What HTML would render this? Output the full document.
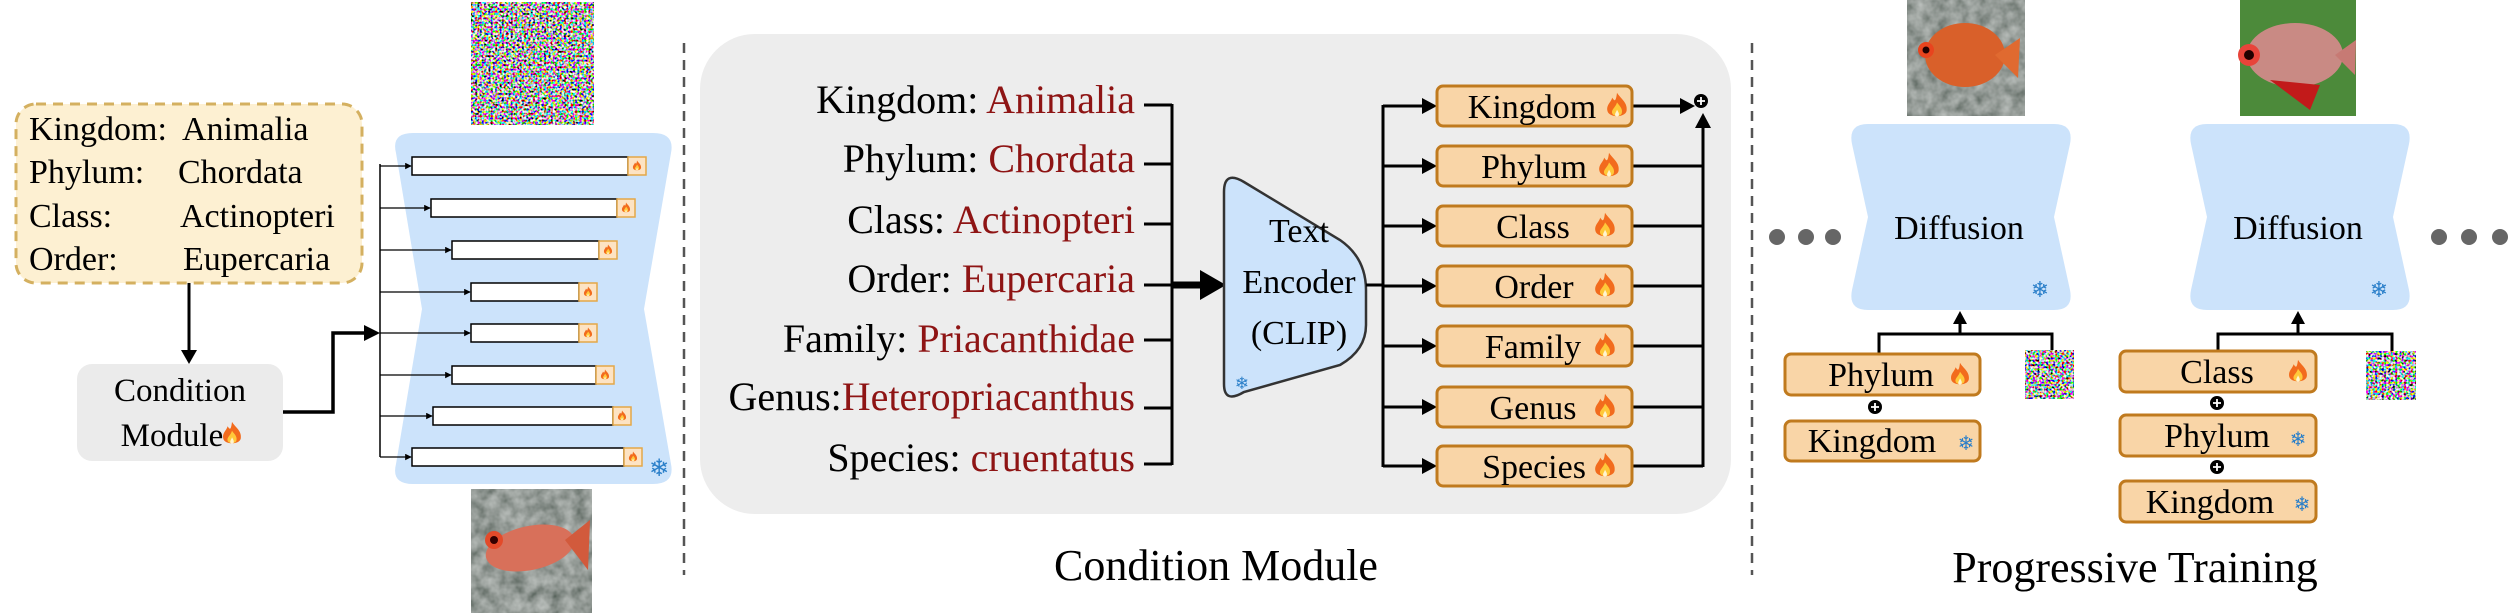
<!DOCTYPE html>
<html><head><meta charset="utf-8"><style>
html,body{margin:0;padding:0;background:#fff;}
svg{display:block;font-family:"Liberation Serif","Times New Roman","DejaVu Serif",serif;}
svg text{font-family:"Liberation Serif","Times New Roman","DejaVu Serif",serif;}
svg text.sym{font-family:"DejaVu Sans",sans-serif;}
</style></head><body>
<svg width="2509" height="613" viewBox="0 0 2509 613" xmlns="http://www.w3.org/2000/svg" font-family="Liberation Serif, serif">
<defs>
<symbol id="fire" viewBox="-10 -12 20 24">
<path d="M0,-11 C3,-6 9,-3 8,4 C7,10 -7,10 -8,4 C-9,-1 -5,-3 -4,-7 C-2,-4 -1,-3 0,-11Z" fill="#f26b1d"/>
<path d="M0,-3 C2,0 5,2 4,6 C3,9 -3,9 -4,6 C-5,3 -1,1 0,-3Z" fill="#ffc83a"/>
<path d="M0,3 C1,5 2,6 1.5,8 C1,9 -1,9 -1.5,8 C-2,6 -0.5,5 0,3Z" fill="#fff4d0"/>
</symbol>
<filter id="noise" x="0" y="0" width="100%" height="100%">
<feTurbulence type="fractalNoise" baseFrequency="0.45" numOctaves="1" seed="3"/>
<feComponentTransfer><feFuncR type="linear" slope="5" intercept="-2"/><feFuncG type="linear" slope="5" intercept="-2"/><feFuncB type="linear" slope="5" intercept="-2"/><feFuncA type="linear" slope="0" intercept="1"/></feComponentTransfer>
</filter>
<filter id="mottle" x="0" y="0" width="100%" height="100%">
<feTurbulence type="fractalNoise" baseFrequency="0.08" numOctaves="3" seed="5"/>
<feColorMatrix type="matrix" values="0 0 0 0.5 0.05  0 0 0 0.5 0.08  0 0 0 0.5 0.06  0 0 0 0 1"/>
</filter>
<marker id="ah" viewBox="0 0 10 10" refX="9" refY="5" markerWidth="5" markerHeight="5" orient="auto"><path d="M0,0 L10,5 L0,10Z" fill="#000"/></marker>
</defs>

<rect x="0" y="0" width="2509" height="613" fill="#fff"/>
<rect x="471" y="2" width="123" height="123" fill="#888" filter="url(#noise)"/>
<rect x="16" y="104" width="346" height="179" rx="20" fill="#fdf0d2" stroke="#d4b060" stroke-width="3" stroke-dasharray="10,7"/>
<g font-size="34" fill="#000">
<text x="29" y="140">Kingdom:</text><text x="182" y="140">Animalia</text>
<text x="29" y="183">Phylum:</text><text x="178" y="183">Chordata</text>
<text x="29" y="227">Class:</text><text x="180" y="227">Actinopteri</text>
<text x="29" y="270">Order:</text><text x="183" y="270">Eupercaria</text>
</g>
<line x1="189" y1="283" x2="189" y2="352" stroke="#000" stroke-width="3"/>
<path d="M181,350 L197,350 L189,364Z" fill="#000"/>
<rect x="77" y="364" width="206" height="97" rx="15" fill="#ebebeb"/>
<text x="180" y="401" font-size="33" text-anchor="middle">Condition</text>
<text x="172" y="446" font-size="33" text-anchor="middle">Module</text>
<use href="#fire" x="221" y="420" width="22" height="28"/>
<polyline points="283,412 333,412 333,333 366,333" fill="none" stroke="#000" stroke-width="3.5"/>
<path d="M364,325 L380,333 L364,341Z" fill="#000"/>

<path d="M413,133 L653,133 Q675,133 671,153 L644,309 L671,464 Q675,484 653,484 L413,484 Q391,484 396,464 L422,309 L396,153 Q391,133 413,133 Z" fill="#cce3fb"/>
<line x1="380" y1="164" x2="380" y2="457" stroke="#000" stroke-width="1.5"/>
<g stroke="#000" stroke-width="1.3">
<line x1="380" y1="166" x2="411" y2="166" marker-end="url(#ah)"/>
<line x1="380" y1="208" x2="430" y2="208" marker-end="url(#ah)"/>
<line x1="380" y1="250" x2="451" y2="250" marker-end="url(#ah)"/>
<line x1="380" y1="292" x2="470" y2="292" marker-end="url(#ah)"/>
<line x1="380" y1="333" x2="470" y2="333" marker-end="url(#ah)"/>
<line x1="380" y1="375" x2="451" y2="375" marker-end="url(#ah)"/>
<line x1="380" y1="416" x2="432" y2="416" marker-end="url(#ah)"/>
<line x1="380" y1="457" x2="411" y2="457" marker-end="url(#ah)"/>
</g>
<g stroke="#000" stroke-width="1.5" fill="#fff">
<rect x="412" y="157" width="216" height="18"/>
<rect x="431" y="199" width="186" height="18"/>
<rect x="452" y="241" width="147" height="18"/>
<rect x="471" y="283" width="108" height="18"/>
<rect x="471" y="324" width="108" height="18"/>
<rect x="452" y="366" width="144" height="18"/>
<rect x="433" y="407" width="180" height="18"/>
<rect x="412" y="448" width="212" height="18"/>
</g>
<g fill="#fde3c3" stroke="#e3a848" stroke-width="1.5">
<rect x="628" y="157" width="18" height="18"/>
<rect x="617" y="199" width="18" height="18"/>
<rect x="599" y="241" width="18" height="18"/>
<rect x="579" y="283" width="18" height="18"/>
<rect x="579" y="324" width="18" height="18"/>
<rect x="596" y="366" width="18" height="18"/>
<rect x="613" y="407" width="18" height="18"/>
<rect x="624" y="448" width="18" height="18"/>
</g>
<g>
<use href="#fire" x="631" y="160" width="12" height="12"/>
<use href="#fire" x="620" y="202" width="12" height="12"/>
<use href="#fire" x="602" y="244" width="12" height="12"/>
<use href="#fire" x="582" y="286" width="12" height="12"/>
<use href="#fire" x="582" y="327" width="12" height="12"/>
<use href="#fire" x="599" y="369" width="12" height="12"/>
<use href="#fire" x="616" y="410" width="12" height="12"/>
<use href="#fire" x="627" y="451" width="12" height="12"/>
</g>
<text class="sym" x="659" y="476" font-size="24" fill="#2a7fc9" text-anchor="middle">❄</text>

<rect x="471" y="489" width="121" height="124" fill="#777" filter="url(#mottle)"/>
<ellipse cx="530" cy="548" rx="45" ry="22" fill="#d8705a" transform="rotate(-12 530 548)"/>
<path d="M565,540 L590,520 L588,570Z" fill="#d25a3c"/>
<circle cx="494" cy="540" r="9" fill="#e34a2a"/><circle cx="494" cy="540" r="4" fill="#300"/>

<line x1="684" y1="43" x2="684" y2="575" stroke="#555" stroke-width="2.5" stroke-dasharray="10,7"/>

<rect x="700" y="34" width="1031" height="480" rx="55" fill="#ededed"/>
<g font-size="40" text-anchor="end" fill="#000">
<text x="1135" y="113">Kingdom: <tspan fill="#8e1414">Animalia</tspan></text>
<text x="1135" y="172">Phylum: <tspan fill="#8e1414">Chordata</tspan></text>
<text x="1135" y="233">Class: <tspan fill="#8e1414">Actinopteri</tspan></text>
<text x="1135" y="292">Order: <tspan fill="#8e1414">Eupercaria</tspan></text>
<text x="1135" y="352">Family: <tspan fill="#8e1414">Priacanthidae</tspan></text>
<text x="1135" y="410">Genus:<tspan fill="#8e1414">Heteropriacanthus</tspan></text>
<text x="1135" y="471">Species: <tspan fill="#8e1414">cruentatus</tspan></text>
</g>
<g stroke="#000" stroke-width="3" fill="none">
<line x1="1144" y1="105" x2="1172" y2="105"/>
<line x1="1144" y1="164" x2="1172" y2="164"/>
<line x1="1144" y1="224" x2="1172" y2="224"/>
<line x1="1144" y1="285" x2="1172" y2="285"/>
<line x1="1144" y1="340" x2="1172" y2="340"/>
<line x1="1144" y1="408" x2="1172" y2="408"/>
<line x1="1144" y1="464" x2="1172" y2="464"/>
<line x1="1172" y1="104" x2="1172" y2="465"/>
</g>
<line x1="1172" y1="285" x2="1205" y2="285" stroke="#000" stroke-width="7"/>
<path d="M1200,270 L1226,285 L1200,300Z" fill="#000"/>
<path d="M1224,192 Q1224,170 1244,182 L1340,240 Q1366,258 1366,290 L1366,325 Q1366,350 1340,365 L1244,392 Q1224,404 1224,384 Z" fill="#cce3fb" stroke="#333" stroke-width="2.5"/>
<g font-size="34" text-anchor="middle">
<text x="1299" y="242">Text</text>
<text x="1299" y="293">Encoder</text>
<text x="1299" y="344">(CLIP)</text>
</g>
<text class="sym" x="1242" y="389" font-size="17" fill="#2a7fc9" text-anchor="middle">❄</text>
<g stroke="#000" stroke-width="3" fill="none">
<line x1="1366" y1="285" x2="1383" y2="285"/>
<line x1="1383" y1="105" x2="1383" y2="467"/>
<line x1="1383" y1="106" x2="1424" y2="106"/>
<line x1="1383" y1="166" x2="1424" y2="166"/>
<line x1="1383" y1="226" x2="1424" y2="226"/>
<line x1="1383" y1="286" x2="1424" y2="286"/>
<line x1="1383" y1="346" x2="1424" y2="346"/>
<line x1="1383" y1="407" x2="1424" y2="407"/>
<line x1="1383" y1="466" x2="1424" y2="466"/>
<line x1="1632" y1="106" x2="1685" y2="106"/>
<line x1="1632" y1="166" x2="1703" y2="166"/>
<line x1="1632" y1="226" x2="1703" y2="226"/>
<line x1="1632" y1="286" x2="1703" y2="286"/>
<line x1="1632" y1="346" x2="1703" y2="346"/>
<line x1="1632" y1="407" x2="1703" y2="407"/>
<line x1="1632" y1="466" x2="1703" y2="466"/>
<line x1="1703" y1="467" x2="1703" y2="128"/>
</g>
<g fill="#000">
<path d="M1422,98 L1437,106 L1422,114Z"/>
<path d="M1422,158 L1437,166 L1422,174Z"/>
<path d="M1422,218 L1437,226 L1422,234Z"/>
<path d="M1422,278 L1437,286 L1422,294Z"/>
<path d="M1422,338 L1437,346 L1422,354Z"/>
<path d="M1422,399 L1437,407 L1422,415Z"/>
<path d="M1422,458 L1437,466 L1422,474Z"/>
<path d="M1680,98 L1695,106 L1680,114Z"/>
<path d="M1695,128 L1703,113 L1711,128Z"/>
</g>
<circle cx="1701" cy="101" r="7" fill="#000"/>
<path d="M1697,101 L1705,101 M1701,97 L1701,105" stroke="#fff" stroke-width="1.8"/>
<g fill="#f9d5a7" stroke="#c07a1e" stroke-width="3">
<rect x="1437" y="86" width="195" height="40" rx="6"/>
<rect x="1437" y="146" width="195" height="40" rx="6"/>
<rect x="1437" y="206" width="195" height="40" rx="6"/>
<rect x="1437" y="266" width="195" height="40" rx="6"/>
<rect x="1437" y="326" width="195" height="40" rx="6"/>
<rect x="1437" y="387" width="195" height="40" rx="6"/>
<rect x="1437" y="446" width="195" height="40" rx="6"/>
</g>
<g font-size="34" text-anchor="middle">
<text x="1532" y="118">Kingdom</text>
<text x="1534" y="178">Phylum</text>
<text x="1533" y="238">Class</text>
<text x="1534" y="298">Order</text>
<text x="1533" y="358">Family</text>
<text x="1533" y="419">Genus</text>
<text x="1534" y="478">Species</text>
</g>
<g>
<use href="#fire" x="1605" y="91" width="24" height="30"/>
<use href="#fire" x="1597" y="151" width="24" height="30"/>
<use href="#fire" x="1593" y="211" width="24" height="30"/>
<use href="#fire" x="1593" y="271" width="24" height="30"/>
<use href="#fire" x="1593" y="331" width="24" height="30"/>
<use href="#fire" x="1593" y="392" width="24" height="30"/>
<use href="#fire" x="1593" y="451" width="24" height="30"/>
</g>
<text x="1216" y="580" font-size="44" text-anchor="middle">Condition Module</text>

<line x1="1752" y1="43" x2="1752" y2="575" stroke="#555" stroke-width="2.5" stroke-dasharray="10,7"/>

<rect x="1907" y="0" width="118" height="116" fill="#777" filter="url(#mottle)"/>
<ellipse cx="1965" cy="55" rx="40" ry="32" fill="#d9602a"/>
<path d="M1995,55 L2020,38 L2018,78Z" fill="#e06a30"/>
<circle cx="1926" cy="50" r="8" fill="#e8441e"/><circle cx="1926" cy="50" r="3.5" fill="#200"/>
<rect x="2240" y="0" width="116" height="116" fill="#4c8a3a"/>
<ellipse cx="2295" cy="55" rx="48" ry="32" fill="#c98a84"/>
<path d="M2335,55 L2356,40 L2355,75Z" fill="#c77a74"/>
<path d="M2270,80 L2310,110 L2320,85Z" fill="#c21a1a"/>
<circle cx="2249" cy="55" r="11" fill="#e8443a"/><circle cx="2249" cy="55" r="5" fill="#200"/>

<path d="M1868,124 L2054,124 Q2074,124 2070,144 L2054,217 L2070,290 Q2074,310 2054,310 L1868,310 Q1848,310 1852,290 L1868,217 L1852,144 Q1848,124 1868,124Z" fill="#cce3fb"/>
<path d="M2207,124 L2393,124 Q2413,124 2409,144 L2393,217 L2409,290 Q2413,310 2393,310 L2207,310 Q2187,310 2191,290 L2207,217 L2191,144 Q2187,124 2207,124Z" fill="#cce3fb"/>
<text x="1959" y="239" font-size="34" text-anchor="middle">Diffusion</text>
<text x="2298" y="239" font-size="34" text-anchor="middle">Diffusion</text>
<text class="sym" x="2040" y="297" font-size="22" fill="#2a7fc9" text-anchor="middle">❄</text>
<text class="sym" x="2379" y="297" font-size="22" fill="#2a7fc9" text-anchor="middle">❄</text>
<g fill="#666">
<circle cx="1777" cy="237" r="8"/><circle cx="1806" cy="237" r="8"/><circle cx="1833" cy="237" r="8"/>
<circle cx="2439" cy="237" r="8"/><circle cx="2469" cy="237" r="8"/><circle cx="2500" cy="237" r="8"/>
</g>
<g stroke="#000" stroke-width="3" fill="none">
<polyline points="1879,354 1879,334 2052,334 2052,350"/>
<line x1="1960" y1="334" x2="1960" y2="322"/>
<polyline points="2218,351 2218,334 2392,334 2392,351"/>
<line x1="2298" y1="334" x2="2298" y2="322"/>
</g>
<path d="M1953,324 L1960,311 L1967,324Z" fill="#000"/>
<path d="M2291,324 L2298,311 L2305,324Z" fill="#000"/>
<rect x="2025" y="350" width="49" height="49" fill="#888" filter="url(#noise)"/>
<rect x="2366" y="351" width="50" height="49" fill="#888" filter="url(#noise)"/>
<g fill="#f9d5a7" stroke="#c07a1e" stroke-width="3">
<rect x="1785" y="354" width="195" height="41" rx="6"/>
<rect x="1785" y="421" width="195" height="40" rx="6"/>
<rect x="2120" y="351" width="196" height="41" rx="6"/>
<rect x="2120" y="415" width="196" height="41" rx="6"/>
<rect x="2120" y="481" width="196" height="41" rx="6"/>
</g>
<g font-size="34" text-anchor="middle">
<text x="1881" y="386">Phylum</text>
<text x="1872" y="452">Kingdom</text>
<text x="2217" y="383">Class</text>
<text x="2217" y="447">Phylum</text>
<text x="2210" y="513">Kingdom</text>
</g>
<use href="#fire" x="1949" y="361" width="22" height="28"/>
<use href="#fire" x="2287" y="358" width="22" height="28"/>
<g font-size="20" fill="#2a7fc9" text-anchor="middle">
<text class="sym" x="1966" y="450">❄</text>
<text class="sym" x="2298" y="446">❄</text>
<text class="sym" x="2302" y="511">❄</text>
</g>
<g>
<circle cx="1875" cy="407" r="7" fill="#000"/><path d="M1871,407 L1879,407 M1875,403 L1875,411" stroke="#fff" stroke-width="1.8"/>
<circle cx="2217" cy="403" r="7" fill="#000"/><path d="M2213,403 L2221,403 M2217,399 L2217,407" stroke="#fff" stroke-width="1.8"/>
<circle cx="2217" cy="467" r="7" fill="#000"/><path d="M2213,467 L2221,467 M2217,463 L2217,471" stroke="#fff" stroke-width="1.8"/>
</g>
<text x="2135" y="582" font-size="44" text-anchor="middle">Progressive Training</text>
</svg>
</body></html>
